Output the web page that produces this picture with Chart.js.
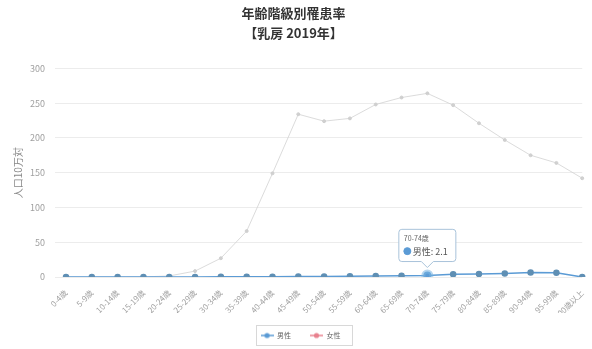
<!DOCTYPE html>
<html lang="ja">
<head>
<meta charset="utf-8">
<title>年齢階級別罹患率</title>
<script src="https://cdn.jsdelivr.net/npm/chart.js@4/dist/chart.umd.min.js"></script>
<style>
  html, body { margin: 0; padding: 0; background: #fff; }
  #wrap { width: 592px; height: 349px; position: relative; }
</style>
</head>
<body>
<div id="wrap"><canvas id="c" width="592" height="349"></canvas></div>
<script>
// Age groups (x axis)
const ageGroups = ['0-4歳','5-9歳','10-14歳','15-19歳','20-24歳','25-29歳','30-34歳','35-39歳','40-44歳','45-49歳','50-54歳','55-59歳','60-64歳','65-69歳','70-74歳','75-79歳','80-84歳','85-89歳','90-94歳','95-99歳','100歳以上'];
// Incidence per 100,000 population
const maleRates   = [0, 0, 0, 0, 0, 0.1, 0.2, 0.4, 0.5, 0.6, 0.8, 1.1, 1.4, 1.8, 2.1, 3.9, 4.3, 5.2, 6.5, 6.0, 0];
const femaleRates = [0, 0, 0, 0.1, 1.5, 8.5, 27, 66, 149, 234, 224, 228, 248, 258, 264, 247, 221, 197, 175, 164, 142];
const yTicks = [0, 50, 100, 150, 200, 250, 300];
const titleLines = ['年齢階級別罹患率', '【乳房 2019年】'];
const seriesNames = ['男性', '女性'];
const highlightIndex = 14;

const FONT = '"Noto Sans CJK JP", "Noto Sans", sans-serif';
const MALE = '#5b9bd5';
const MALE_PT = '#5f8fb4';
const FEMALE_LEGEND = '#e8828f';
const PLOT_BOTTOM = 277;

// legend marker: short line with a dot in the middle
function legendMarker(color) {
  const cv = document.createElement('canvas');
  cv.width = 13; cv.height = 8;
  const g = cv.getContext('2d');
  g.strokeStyle = color; g.lineWidth = 1.5;
  g.beginPath(); g.moveTo(0, 4); g.lineTo(13, 4); g.stroke();
  g.fillStyle = color;
  g.beginPath(); g.arc(6.5, 4, 2.6, 0, Math.PI * 2); g.fill();
  return cv;
}
const markers = [legendMarker(MALE), legendMarker(FEMALE_LEGEND)];

// places the legend row and the title, and frames the legend
const legendFrame = {
  id: 'legendFrame',
  beforeDraw(chart) {
    const lg = chart.legend;
    const hb = lg && lg.legendHitBoxes;
    if (hb && hb.length) {
      const first = hb[0], last = hb[hb.length - 1];
      const cx = (first.left + last.left + last.width) / 2;
      const cy = first.top + first.height / 2;
      const dx = Math.round(300 - cx), dy = Math.round(335.5 - cy);
      if (dx || dy) {
        lg.left += dx; lg.right += dx; lg.top += dy; lg.bottom += dy;
        hb.forEach(h => { h.left += dx; h.top += dy; });
      }
    }
    const tt = chart.titleBlock;
    if (tt && !tt._shifted) {
      tt.left += 7; tt.right += 7; tt._shifted = true;
    }
  },
  afterDraw(chart) {
    const boxes = chart.legend && chart.legend.legendHitBoxes;
    if (!boxes || !boxes.length) return;
    let l = Infinity, r = -Infinity, t = Infinity, b = -Infinity;
    boxes.forEach(h => { l = Math.min(l, h.left); r = Math.max(r, h.left + h.width); t = Math.min(t, h.top); b = Math.max(b, h.top + h.height); });
    const ctx = chart.ctx;
    ctx.save();
    ctx.strokeStyle = '#d8d8d8';
    ctx.lineWidth = 1;
    ctx.strokeRect(Math.round(l - 5) + 0.5, Math.round(t - 7) + 0.5, Math.round(r - l + 16), Math.round(b - t + 13));
    ctx.restore();
  }
};

const chart = new Chart(document.getElementById('c'), {
  type: 'line',
  data: {
    labels: ageGroups,
    datasets: [
      {
        label: seriesNames[0],
        data: maleRates,
        borderColor: MALE,
        backgroundColor: MALE_PT,
        pointBackgroundColor: MALE_PT,
        pointBorderColor: MALE_PT,
        borderWidth: 1.5,
        pointRadius: 2.5,
        pointHoverRadius: 4,
        pointHoverBorderWidth: 4,
        pointHoverBorderColor: 'rgba(120,180,225,0.55)',
        pointHoverBackgroundColor: '#5b9bd5',
        tension: 0,
        order: 0
      },
      {
        label: seriesNames[1],
        data: femaleRates,
        borderColor: 'rgba(210,210,210,0.8)',
        backgroundColor: 'rgba(205,205,205,0.9)',
        pointBackgroundColor: 'rgba(205,205,205,0.9)',
        pointBorderColor: 'rgba(205,205,205,0.9)',
        borderWidth: 1,
        pointRadius: 1.5,
        tension: 0,
        order: 1
      }
    ]
  },
  options: {
    responsive: false,
    animation: false,
    events: [],
    layout: { padding: { left: 0, right: 5, top: 0, bottom: 0 } },
    plugins: {
      title: {
        display: true,
        text: titleLines,
        color: '#333',
        font: { family: FONT, size: 13, weight: 'bold', lineHeight: 1.55 },
        padding: { top: 3, bottom: 25 }
      },
      legend: {
        display: true,
        position: 'bottom',
        labels: {
          color: '#666',
          font: { family: FONT, size: 7 },
          usePointStyle: true,
          pointStyleWidth: 13,
          boxHeight: 7,
          padding: 19,
          generateLabels(ch) {
            return ch.data.datasets.map((ds, i) => ({
              text: ds.label,
              pointStyle: markers[i],
              fontColor: '#666',
              lineWidth: 0,
              hidden: false,
              datasetIndex: i
            }));
          }
        }
      },
      tooltip: {
        enabled: true,
        backgroundColor: 'rgba(255,255,255,0.96)',
        borderColor: '#a9c3da',
        borderWidth: 1,
        titleColor: '#666',
        titleFont: { family: FONT, size: 7, weight: 'normal' },
        titleMarginBottom: 3,
        bodyColor: '#555',
        bodyFont: { family: FONT, size: 9 },
        padding: { left: 5, right: 8, top: 5, bottom: 5 },
        cornerRadius: 3,
        caretSize: 6,
        caretPadding: 8,
        yAlign: 'bottom',
        xAlign: 'center',
        displayColors: true,
        usePointStyle: true,
        boxWidth: 7,
        boxHeight: 7,
        callbacks: {
          label: (c) => c.dataset.label + ': ' + c.parsed.y,
          labelColor: () => ({ borderColor: MALE, backgroundColor: MALE }),
          labelPointStyle: () => ({ pointStyle: 'circle', rotation: 0 })
        }
      }
    },
    scales: {
      x: {
        offset: false,
        afterFit: (s) => {
          const lgH = (s.chart.legend && s.chart.legend.height) || 0;
          s.height = s.chart.height - PLOT_BOTTOM - lgH;
        },
        grid: { display: false },
        border: { display: false },
        ticks: {
          color: '#a0a0a0',
          font: { family: FONT, size: 8 },
          minRotation: 45,
          maxRotation: 45,
          autoSkip: false,
          padding: 3
        }
      },
      y: {
        min: 0,
        max: 300,
        afterFit: (s) => { s.width = 66; },
        afterBuildTicks: (s) => { s.ticks = yTicks.map(v => ({ value: v })); },
        grid: { color: '#ececec', tickColor: '#ececec', tickLength: 11, lineWidth: 1 },
        border: { display: false },
        ticks: { color: '#a0a0a0', font: { family: FONT, size: 9 }, padding: 10 },
        title: {
          display: true,
          text: '人口10万対',
          color: '#888',
          font: { family: FONT, size: 10 },
          padding: { top: 12, bottom: 0 }
        }
      }
    }
  },
  plugins: [legendFrame]
});

const active = [{ datasetIndex: 0, index: highlightIndex }];
chart.setActiveElements(active);
const pt = chart.getDatasetMeta(0).data[highlightIndex];
chart.tooltip.setActiveElements(active, { x: pt.x, y: pt.y });
chart.update('none');
</script>
</body>
</html>
